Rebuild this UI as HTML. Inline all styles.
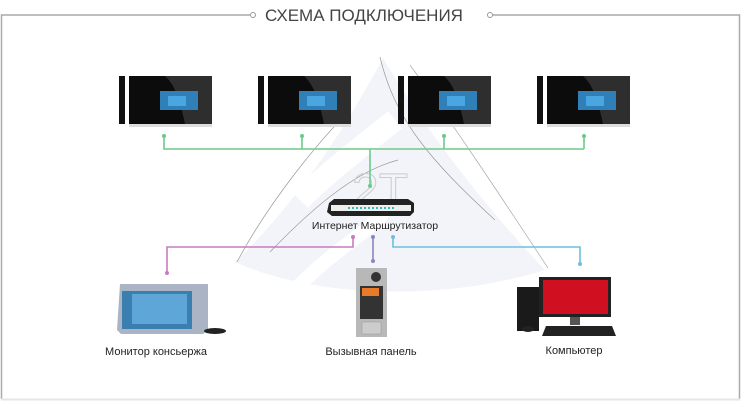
<!DOCTYPE html>
<html><head><meta charset="utf-8"><style>
html,body{margin:0;padding:0;background:#fff;}
svg{display:block;}
text{font-family:"Liberation Sans","DejaVu Sans",sans-serif;}
</style></head><body>
<svg width="741" height="401" viewBox="0 0 741 401" xmlns="http://www.w3.org/2000/svg">
<!-- frame -->
<path d="M1.5 399 V15 H250" fill="none" stroke="#aaa" stroke-width="1.5"/>
<circle cx="253" cy="15" r="2.5" fill="#fff" stroke="#999"/>
<circle cx="490" cy="15" r="2.5" fill="#fff" stroke="#999"/>
<path d="M493 15 H739.5 V399" fill="none" stroke="#aaa" stroke-width="1.5"/>
<line x1="1" y1="399.5" x2="740" y2="399.5" stroke="#e6e6e6" stroke-width="2"/>
<text x="364" y="21" font-size="17" fill="#444" text-anchor="middle">СХЕМА ПОДКЛЮЧЕНИЯ</text>

<!-- watermark triangle -->
<path d="M383 58 C350 120 300 200 235 262 C320 300 450 300 545 270 C470 190 420 120 383 58 Z" fill="#f3f4f9"/>
<path d="M300 200 C330 170 370 140 395 120" fill="none" stroke="#fff" stroke-width="22"/>
<path d="M285 300 C340 240 380 230 390 200" fill="none" stroke="#fff" stroke-width="14"/>
<path d="M380 57 C395 120 430 160 495 220" fill="none" stroke="#999" stroke-width="0.7"/>
<path d="M410 65 C450 120 490 180 548 268" fill="none" stroke="#aaa" stroke-width="0.7"/>
<path d="M237 262 C270 200 320 140 350 110" fill="none" stroke="#999" stroke-width="0.7"/>
<path d="M270 252 C320 200 360 170 398 160" fill="none" stroke="#999" stroke-width="0.7"/>
<text x="352" y="207" font-size="48" fill="none" stroke="#ccc" stroke-width="1">2T</text>

<!-- monitors -->
<g id="m">
<rect x="119" y="76" width="6" height="48" fill="#111"/>
<rect x="129" y="76" width="83" height="48" fill="#0c0c0c"/>
<path d="M165 76 H212 V124 H185 C180 100 175 85 165 76Z" fill="#2e2e2e"/>
<rect x="160" y="91" width="38" height="19" fill="#2f7fb8"/>
<rect x="168" y="96" width="18" height="10" fill="#4aa6e0"/>
<rect x="129" y="124" width="83" height="3" fill="#ddd"/>
</g>
<use href="#m" x="139"/>
<use href="#m" x="279"/>
<use href="#m" x="418"/>

<!-- green -->
<g stroke="#6cc98a" stroke-width="1.6" fill="none">
<path d="M164 136 V149 H584 M584 136 V149 M302 136 V149 M444 136 V149 M370 149 V186"/>
</g>
<g fill="#6cc98a"><circle cx="164" cy="136" r="2"/><circle cx="302" cy="136" r="2"/><circle cx="444" cy="136" r="2"/><circle cx="584" cy="136" r="2"/><circle cx="370" cy="186" r="2"/></g>

<!-- router -->
<path d="M329 203 L334 199 H408 L414 203 V212 L410 216 H332 L327 212 Z" fill="#222"/>
<rect x="331" y="205" width="80" height="6" fill="#eee"/>
<line x1="348" y1="208" x2="395" y2="208" stroke="#3bb" stroke-width="2" stroke-dasharray="2 2"/>
<text x="375" y="229" font-size="10.5" fill="#222" text-anchor="middle">Интернет Маршрутизатор</text>

<!-- pink -->
<path d="M353 237 V247 H167 V273" fill="none" stroke="#c87bc0" stroke-width="1.6"/>
<circle cx="353" cy="237" r="2" fill="#c87bc0"/><circle cx="167" cy="273" r="2" fill="#c87bc0"/>
<!-- purple -->
<path d="M373 237 V261" fill="none" stroke="#8a86c0" stroke-width="1.6"/>
<circle cx="373" cy="237" r="2" fill="#8a86c0"/><circle cx="373" cy="261" r="2" fill="#8a86c0"/>
<!-- blue -->
<path d="M393 237 V247 H580 V264" fill="none" stroke="#6cc0dc" stroke-width="1.6"/>
<circle cx="393" cy="237" r="2" fill="#6cc0dc"/><circle cx="580" cy="264" r="2" fill="#6cc0dc"/>

<!-- concierge monitor -->
<path d="M120 284 H208 V330 L203 334 H121 L117 330 Z" fill="#aab4c4"/>
<rect x="122" y="291" width="70" height="38" fill="#3a7fb0"/>
<rect x="132" y="294" width="55" height="30" fill="#5fa6d8"/>
<ellipse cx="215" cy="331" rx="11" ry="3" fill="#222"/>
<text x="156" y="355" font-size="11" fill="#222" text-anchor="middle">Монитор консьержа</text>

<!-- call panel -->
<rect x="356" y="268" width="31" height="69" fill="#b8b8b8"/>
<circle cx="376" cy="277" r="5" fill="#333"/>
<rect x="360" y="286" width="23" height="33" fill="#333"/>
<rect x="362" y="288" width="17" height="8" fill="#e87a2a"/>
<rect x="362" y="322" width="19" height="12" fill="#ccc" stroke="#999" stroke-width="0.5"/>
<text x="371" y="355" font-size="11" fill="#222" text-anchor="middle">Вызывная панель</text>

<!-- computer -->
<rect x="539" y="277" width="72" height="40" fill="#222"/>
<rect x="543" y="280" width="65" height="34" fill="#d01020"/>
<rect x="517" y="287" width="22" height="44" fill="#1a1a1a"/>
<rect x="570" y="317" width="10" height="8" fill="#555"/>
<path d="M546 326 H612 L616 336 H542 Z" fill="#222"/>
<ellipse cx="528" cy="329" rx="6" ry="3" fill="#222"/>
<text x="574" y="354" font-size="11" fill="#222" text-anchor="middle">Компьютер</text>
</svg>
</body></html>
